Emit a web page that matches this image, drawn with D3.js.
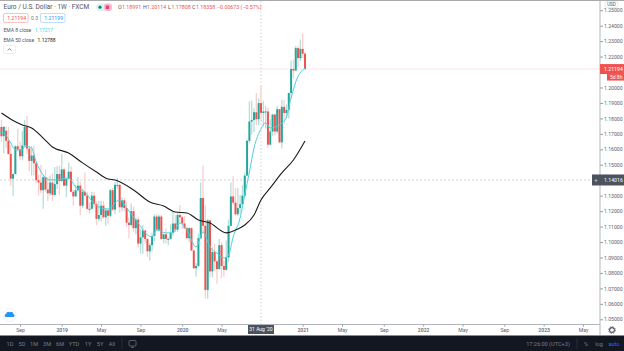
<!DOCTYPE html>
<html>
<head>
<meta charset="utf-8">
<script src="https://cdn.jsdelivr.net/npm/d3@7"></script>
<style>
  html, body { margin: 0; padding: 0; background: #fff; overflow: hidden; }
  svg { display: block; }
  text { font-family: Roboto, "Liberation Sans", sans-serif; }
  .axis path { display: none; }
  .axis line { stroke: #9598a1; }
  .axis text { fill: #5d606b; font-size: 5.1px; }
</style>
</head>
<body>
<div id="chart"></div>
<script>
  // weekly bars, first one is the week of 2 Jul 2018
  const firstWeek = new Date(Date.UTC(2018, 6, 2));
  const lastWeek = new Date(Date.UTC(2021, 0, 11));

  const opens = [
    1.1685,1.1745,1.1685,1.1720,1.1655,1.1570,1.1410,1.1440,1.1620,1.1600,1.1555,1.1625,1.1745,1.1605,1.1525,1.1560,1.1510,1.1400,1.1385,1.1335,1.1420,1.1340,1.1315,1.1385,1.1305,1.1375,1.1440,
    1.1395,1.1470,1.1365,1.1410,1.1455,1.1325,1.1295,1.1335,1.1365,1.1235,1.1325,1.1300,1.1215,1.1215,1.1300,1.1245,1.1150,1.1175,1.1235,1.1160,1.1205,1.1170,1.1335,1.1210,1.1370,1.1370,1.1225,1.1270,1.1220,1.1125,1.1110,1.1200,1.1090,1.1145,1.0990,1.1030,1.1075,1.1020,1.0940,1.0980,1.1040,1.1165,1.1080,1.1165,1.1020,1.1050,1.1020,1.1020,1.1060,1.1120,1.1080,1.1175,
    1.1160,1.1120,1.1090,1.1025,1.1090,1.0945,1.0830,1.0845,1.1025,1.1285,1.1105,1.0690,1.1140,1.0810,1.0935,1.0875,1.0825,1.0980,1.0845,1.0820,1.0900,1.1105,1.1295,1.1255,1.1180,1.1220,1.1245,1.1300,1.1430,1.1655,1.1780,1.1790,1.1840,1.1795,1.18991,1.1835,1.1845,1.1845,1.1630,1.1715,1.1825,1.1715,1.1860,1.1645,1.1875,1.1835,1.1855,1.1965,1.2120,1.2110,1.2255,1.2190,
    1.2250,1.2219
  ];
  const highs = [
    1.1755,1.1790,1.1750,1.1750,1.1745,1.1625,1.1445,1.1625,1.1735,1.1650,1.1720,1.1790,1.1815,1.1620,1.1620,1.1620,1.1520,1.1435,1.1500,1.1430,1.1470,1.1420,1.1430,1.1445,1.1485,1.1490,1.1495,
    1.1570,1.1480,1.1410,1.1515,1.1490,1.1340,1.1370,1.1420,1.1390,1.1345,1.1450,1.1325,1.1255,1.1325,1.1325,1.1265,1.1265,1.1265,1.1265,1.1215,1.1215,1.1345,1.1350,1.1390,1.1415,1.1375,1.1290,1.1285,1.1255,1.1160,1.1250,1.1230,1.1155,1.1165,1.1085,1.1110,1.1075,1.1025,1.0995,1.1060,1.1180,1.1180,1.1175,1.1175,1.1055,1.1090,1.1030,1.1115,1.1200,1.1175,1.1190,1.1240,
    1.1170,1.1170,1.1100,1.1095,1.1095,1.0950,1.0865,1.1055,1.1385,1.1495,1.1235,1.1150,1.1145,1.0970,1.0990,1.0890,1.1020,1.1000,1.0880,1.1010,1.1145,1.1385,1.1425,1.1350,1.1350,1.1305,1.1370,1.1450,1.1660,1.1910,1.1915,1.1865,1.1965,1.1930,1.20114,1.1915,1.1880,1.1870,1.1795,1.1830,1.1830,1.1880,1.1860,1.1920,1.1920,1.1890,1.1965,1.2175,1.2180,1.2270,1.2270,1.2310,
    1.2350,1.2230
  ];
  const lows = [
    1.1590,1.1650,1.1575,1.1610,1.1565,1.1365,1.1300,1.1440,1.1585,1.1530,1.1530,1.1610,1.1570,1.1460,1.1430,1.1430,1.1380,1.1300,1.1315,1.1215,1.1325,1.1265,1.1300,1.1265,1.1300,1.1345,1.1305,
    1.1390,1.1360,1.1290,1.1410,1.1320,1.1235,1.1295,1.1330,1.1175,1.1220,1.1300,1.1205,1.1185,1.1210,1.1225,1.1110,1.1135,1.1135,1.1150,1.1105,1.1115,1.1160,1.1200,1.1180,1.1345,1.1190,1.1200,1.1200,1.1100,1.1025,1.1100,1.1065,1.1050,1.0965,1.0925,1.0925,1.0990,1.0905,1.0880,1.0940,1.1005,1.1075,1.1070,1.1015,1.0990,1.0990,1.0980,1.1015,1.1040,1.1065,1.1065,1.1125,
    1.1085,1.1085,1.1020,1.1000,1.0945,1.0830,1.0775,1.0835,1.1020,1.1055,1.0635,1.0635,1.0770,1.0770,1.0815,1.0730,1.0820,1.0765,1.0775,1.0815,1.0870,1.1105,1.1240,1.1170,1.1170,1.1185,1.1240,1.1295,1.1425,1.1640,1.1695,1.1710,1.1755,1.1755,1.17808,1.1750,1.1735,1.1610,1.1625,1.1685,1.1690,1.1700,1.1640,1.1605,1.1765,1.1800,1.1800,1.1925,1.2060,1.2105,1.2130,1.2170,
    1.2190,1.2115
  ];
  const closes = [
    1.1745,1.1685,1.1745,1.1655,1.1570,1.1410,1.1440,1.1620,1.1600,1.1555,1.1625,1.1745,1.1605,1.1525,1.1560,1.1510,1.1400,1.1385,1.1335,1.1420,1.1340,1.1315,1.1385,1.1305,1.1375,1.1440,1.1395,
    1.1470,1.1365,1.1410,1.1455,1.1325,1.1295,1.1335,1.1365,1.1235,1.1325,1.1300,1.1215,1.1215,1.1300,1.1245,1.1150,1.1175,1.1235,1.1160,1.1205,1.1170,1.1335,1.1210,1.1370,1.1370,1.1225,1.1270,1.1220,1.1125,1.1110,1.1200,1.1090,1.1145,1.0990,1.1030,1.1075,1.1020,1.0940,1.0980,1.1040,1.1165,1.1080,1.1165,1.1020,1.1050,1.1020,1.1020,1.1060,1.1120,1.1080,1.1175,1.1160,
    1.1120,1.1090,1.1025,1.1090,1.0945,1.0830,1.0845,1.1025,1.1285,1.1105,1.0690,1.1140,1.0810,1.0935,1.0875,1.0825,1.0980,1.0845,1.0820,1.0900,1.1105,1.1295,1.1255,1.1180,1.1220,1.1245,1.1300,1.1430,1.1655,1.1780,1.1790,1.1840,1.1795,1.18991,1.18358,1.1845,1.1845,1.1630,1.1715,1.1825,1.1715,1.1860,1.1645,1.1875,1.1835,1.1855,1.1965,1.2120,1.2110,1.2255,1.2190,1.2250,
    1.2219,1.21194
  ];

  // line readings: bar number, price
  const ema8Bars = [0,2,5,7,10,11,14,16,19,22,25,30,33,37,40,44,47,52,56,60,64,66,68,72,75,78,81,85,88,91,94,97,99,101,104,106,108,110,113,115,117,121,124,126,128,132];
  const ema8Values = [1.1712,1.1706,1.1641,1.1596,1.1596,1.1622,1.1609,1.1518,1.1434,1.1402,1.1402,1.1415,1.1356,1.1324,1.1266,1.1220,1.1214,1.1272,1.1201,1.1123,1.1046,1.1033,1.1078,1.1059,1.1059,1.1123,1.1078,1.0968,1.1065,1.0968,1.0929,1.0897,1.0916,1.1033,1.1156,1.1305,1.1453,1.1609,1.1732,1.1771,1.1738,1.1758,1.1809,1.1932,1.2036,1.2127];
  const ema50Bars = [1,6,10,14,19,23,30,36,42,47,50,58,65,71,76,81,86,91,98,103,106,110,113,117,122,127,132];
  const ema50Values = [1.1835,1.1787,1.1758,1.1738,1.1673,1.1615,1.1576,1.1512,1.1453,1.1408,1.1402,1.1337,1.1259,1.1233,1.1194,1.1188,1.1143,1.1123,1.1059,1.1084,1.1110,1.1175,1.1272,1.1350,1.1447,1.1531,1.1654];

  const priceTicks = [1.25,1.24,1.23,1.22,1.20,1.19,1.18,1.17,1.16,1.15,1.13,1.12,1.11,1.10,1.09,1.08,1.07,1.06,1.05];
  const timeTicks = [
    [2018,8,3,"Sep"],[2019,0,7,"2019"],[2019,4,6,"May"],[2019,8,2,"Sep"],[2020,0,6,"2020"],[2020,4,4,"May"],
    [2021,0,4,"2021"],[2021,4,3,"May"],[2021,8,6,"Sep"],[2022,0,3,"2022"],[2022,4,2,"May"],[2022,8,5,"Sep"],[2023,0,2,"2023"],[2023,4,1,"May"]
  ];
  const rangeButtons = ["1D","5D","1M","3M","6M","YTD","1Y","5Y","All"];
  const rangeButtonX = [10,22,34,47,60,74,88,100,112];

  const lastPrice = 1.21194;
  const crossPrice = 1.14016;
  const crossWeek = new Date(Date.UTC(2020, 7, 31));

  const upColor = "#26a69a", downColor = "#ef5350";
  const width = 624, height = 351;
  const axisX = 600, axisY = 324.5;

  const weeks = d3.utcMonday.range(firstWeek, d3.utcDay.offset(lastWeek, 1));
  const bars = weeks.map((w, i) => ({ date: w, o: opens[i], h: highs[i], l: lows[i], c: closes[i] }));

  const x = d3.scaleUtc().domain([firstWeek, lastWeek]).range([-0.84, 305]);
  const y = d3.scaleLinear().domain([1.05, 1.24]).range([319.3, 25.7]);

  const svg = d3.select("#chart").append("svg").attr("width", width).attr("height", height);

  svg.append("rect").attr("width", width).attr("height", 1).attr("fill", "#a9a9a9");

  // crosshair + last price line sit under the candles
  svg.append("line").attr("x1", 0).attr("x2", axisX).attr("y1", y(lastPrice)).attr("y2", y(lastPrice))
     .attr("stroke", "#fbdcdb").attr("stroke-width", 0.8);
  svg.append("line").attr("x1", 0).attr("x2", 592).attr("y1", y(crossPrice)).attr("y2", y(crossPrice))
     .attr("stroke", "#c4c6cc").attr("stroke-width", 0.8).attr("stroke-dasharray", "2 2");
  svg.append("line").attr("x1", x(crossWeek)).attr("x2", x(crossWeek)).attr("y1", 1).attr("y2", axisY)
     .attr("stroke", "#c4c6cc").attr("stroke-width", 0.8).attr("stroke-dasharray", "1.5 2");

  const candles = svg.append("g").selectAll("g").data(bars).enter().append("g");
  candles.append("line")
    .attr("x1", d => x(d.date)).attr("x2", d => x(d.date))
    .attr("y1", d => y(d.h)).attr("y2", d => y(d.l))
    .attr("stroke", d => d.c >= d.o ? "#b5dfda" : "#f9cfcd")
    .attr("stroke-width", 1.3);
  candles.append("rect")
    .attr("x", d => x(d.date) - 1)
    .attr("width", 2)
    .attr("y", d => y(Math.max(d.o, d.c)))
    .attr("height", d => Math.max(1, Math.abs(y(d.o) - y(d.c))))
    .attr("fill", d => d.c >= d.o ? upColor : downColor);

  const lineFrom = (bar, value) => d3.line()
    .x((d, i) => x(weeks[bar[i]]))
    .y(d => y(d))
    .curve(d3.curveMonotoneX)(value);

  svg.append("path").attr("d", lineFrom(ema8Bars, ema8Values))
     .attr("fill", "none").attr("stroke", "#4dd0e1").attr("stroke-width", 1);
  svg.append("path").attr("d", lineFrom(ema50Bars, ema50Values))
     .attr("fill", "none").attr("stroke", "#1a1a1a").attr("stroke-width", 1.1);

  // price axis
  const priceAxis = svg.append("g").attr("class", "axis").attr("transform", `translate(${axisX},0)`)
    .call(d3.axisRight(y).tickValues(priceTicks).tickFormat(d3.format(".5f")).tickSize(3).tickPadding(1));
  svg.append("line").attr("x1", axisX).attr("x2", axisX).attr("y1", 1).attr("y2", 335)
     .attr("stroke", "#b2b5be");

  // time axis
  const timeAxis = svg.append("g").attr("class", "axis").attr("transform", `translate(0,${axisY})`)
    .call(d3.axisBottom(x)
      .tickValues(timeTicks.map(t => new Date(Date.UTC(t[0], t[1], t[2]))))
      .tickFormat((d, i) => timeTicks[i][3])
      .tickSize(2).tickPadding(2));
  timeAxis.selectAll("text").style("font-weight", (d, i) => /^\d/.test(timeTicks[i][3]) ? "500" : "400");
  svg.append("line").attr("x1", 0).attr("x2", axisX).attr("y1", axisY).attr("y2", axisY).attr("stroke", "#b2b5be");

  // USD pill
  svg.append("rect").attr("x", 605).attr("y", 1.6).attr("width", 13).attr("height", 5.8).attr("rx", 2)
     .attr("fill", "#fff").attr("stroke", "#d1d4dc").attr("stroke-width", 0.5);
  svg.append("text").attr("x", 611.5).attr("y", 6.2).attr("text-anchor", "middle")
     .attr("font-size", 4.6).attr("fill", "#50535e").text("USD");

  // last price tag
  svg.append("rect").attr("x", axisX).attr("y", y(lastPrice) - 5).attr("width", 24).attr("height", 10).attr("fill", downColor);
  svg.append("text").attr("x", 604).attr("y", y(lastPrice) + 1.8).attr("font-size", 5.2).attr("fill", "#fff").text("1.21194");
  svg.append("rect").attr("x", 607).attr("y", y(lastPrice) + 5).attr("width", 17).attr("height", 6.5).attr("fill", downColor);
  svg.append("text").attr("x", 610).attr("y", y(lastPrice) + 10).attr("font-size", 5).attr("fill", "#fff").text("5d 8h");

  // crosshair tags
  svg.append("rect").attr("x", 592).attr("y", y(crossPrice) - 5.5).attr("width", 8).attr("height", 11).attr("fill", "#4c525e");
  svg.append("text").attr("x", 596).attr("y", y(crossPrice) + 2).attr("text-anchor", "middle")
     .attr("font-size", 6).attr("fill", "#d1d4dc").text("+");
  svg.append("rect").attr("x", axisX).attr("y", y(crossPrice) - 5.5).attr("width", 24).attr("height", 11).attr("fill", "#4c525e");
  svg.append("text").attr("x", 604).attr("y", y(crossPrice) + 1.8).attr("font-size", 5.2).attr("fill", "#fff").text("1.14016");
  svg.append("rect").attr("x", x(crossWeek) - 13).attr("y", 325).attr("width", 26).attr("height", 9).attr("fill", "#4c525e");
  svg.append("text").attr("x", x(crossWeek)).attr("y", 331.4).attr("text-anchor", "middle")
     .attr("font-size", 5).attr("fill", "#fff").text("31 Aug '20");

  // settings gear
  const gear = svg.append("g").attr("transform", "translate(612,330)");
  gear.append("circle").attr("r", 2.4).attr("fill", "none").attr("stroke", "#50535e").attr("stroke-width", 1.1);
  gear.append("circle").attr("r", 3.5).attr("fill", "none").attr("stroke", "#50535e").attr("stroke-width", 0.7).attr("stroke-dasharray", "1.4 1.35");

  // bottom toolbar
  svg.append("rect").attr("y", 335.5).attr("width", width).attr("height", 16).attr("fill", "#131722");
  svg.selectAll(".range").data(rangeButtons).enter().append("text").attr("class", "range")
     .attr("x", (d, i) => rangeButtonX[i]).attr("y", 345.5).attr("text-anchor", "middle")
     .attr("font-size", 5.6).attr("fill", "#787b86").text(d => d);
  svg.append("line").attr("x1", 122).attr("x2", 122).attr("y1", 338).attr("y2", 349).attr("stroke", "#2a2e39");
  svg.append("rect").attr("x", 129).attr("y", 340.5).attr("width", 7).attr("height", 5.5).attr("rx", 1)
     .attr("fill", "none").attr("stroke", "#787b86").attr("stroke-width", 0.7);
  svg.append("line").attr("x1", 131).attr("x2", 134).attr("y1", 347.5).attr("y2", 347.5).attr("stroke", "#787b86").attr("stroke-width", 0.7);
  svg.append("text").attr("x", 548).attr("y", 345.5).attr("text-anchor", "middle").attr("font-size", 5.6).attr("fill", "#787b86").text("17:26:00 (UTC+3)");
  svg.append("line").attr("x1", 577).attr("x2", 577).attr("y1", 338).attr("y2", 349).attr("stroke", "#2a2e39");
  svg.append("text").attr("x", 586).attr("y", 345.5).attr("text-anchor", "middle").attr("font-size", 5.6).attr("fill", "#787b86").text("%");
  svg.append("text").attr("x", 599).attr("y", 345.5).attr("text-anchor", "middle").attr("font-size", 5.6).attr("fill", "#787b86").text("log");
  svg.append("text").attr("x", 614).attr("y", 345.5).attr("text-anchor", "middle").attr("font-size", 5.6).attr("fill", "#2962ff").text("auto");

  // cloud logo
  svg.append("circle").attr("cx", 9.7).attr("cy", 315).attr("r", 6.5).attr("fill", "#fff").attr("stroke", "#e6e8ee").attr("stroke-width", 0.6);
  svg.append("path").attr("d", "M5.6 317 a1.7 1.7 0 0 1 .6-3.2 a2.2 2.2 0 0 1 3.6-1.6 a2.4 2.4 0 0 1 3.6 1.8 a1.6 1.6 0 0 1 .2 3 z").attr("fill", "#2196f3");

  // legend, top left
  const legend = svg.append("g");
  const put = (px, py, str, size, color) => legend.append("text").attr("x", px).attr("y", py).attr("font-size", size).attr("fill", color).text(str);

  put(3.5, 9.2, "Euro / U.S. Dollar · 1W · FXCM", 6.5, "#50535e");
  legend.append("rect").attr("x", 96).attr("y", 3.5).attr("width", 16).attr("height", 7.5).attr("rx", 3.7).attr("fill", "#e0f2f1");
  legend.append("rect").attr("x", 104).attr("y", 3.5).attr("width", 8).attr("height", 7.5).attr("rx", 3).attr("fill", "#f8bbd0");
  legend.append("circle").attr("cx", 100).attr("cy", 7.2).attr("r", 1.6).attr("fill", "#00897b");
  legend.append("rect").attr("x", 105.7).attr("y", 5.5).attr("width", 3.5).attr("height", 3.5).attr("fill", "#ec407a");

  const ohlc = [[118,"O"],[122,"1.18991"],[143,"H"],[147,"1.20114"],[168,"L"],[171.5,"1.17808"],[192,"C"],[196,"1.18358"],[217,"−0.00673 (−0.57%)"]];
  ohlc.forEach(o => put(o[0], 9.2, o[1], 5.3, o[1].length === 1 ? "#50535e" : downColor));

  legend.append("rect").attr("x", 3.5).attr("y", 13.5).attr("width", 24.5).attr("height", 9).attr("rx", 1.5).attr("fill", "#fff").attr("stroke", "#f7a8a5").attr("stroke-width", 0.7);
  put(7.2, 20, "1.21194", 5.2, downColor);
  put(31, 20, "0.3", 5, "#787b86");
  legend.append("rect").attr("x", 40.5).attr("y", 13.5).attr("width", 24.5).attr("height", 9).attr("rx", 1.5).attr("fill", "#fff").attr("stroke", "#a8cdf3").attr("stroke-width", 0.7);
  put(44.2, 20, "1.21199", 5.2, "#2196f3");

  put(3.5, 31.5, "EMA 8 close", 5, "#50535e");
  put(35, 31.5, "1.17217", 5, "#4dd0e1");
  put(3.5, 41.5, "EMA 50 close", 5, "#50535e");
  put(37.5, 41.5, "1.12788", 5, "#1a1a1a");

  legend.append("rect").attr("x", 3.5).attr("y", 45.5).attr("width", 12).attr("height", 8).attr("rx", 1).attr("fill", "#fff").attr("stroke", "#e0e3eb").attr("stroke-width", 0.6);
  legend.append("path").attr("d", "M7.8 50.4 L9.5 48.6 L11.2 50.4").attr("fill", "none").attr("stroke", "#50535e").attr("stroke-width", 0.7);
</script>
</body>
</html>
